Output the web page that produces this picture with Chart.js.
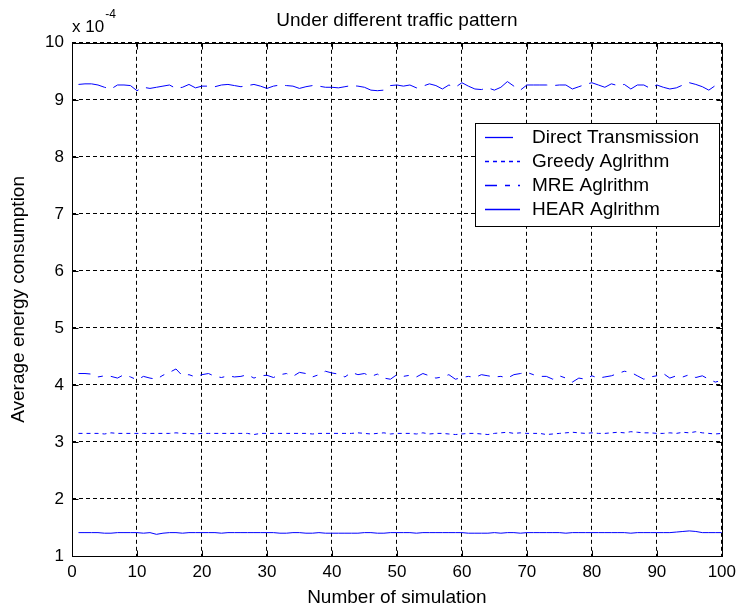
<!DOCTYPE html>
<html>
<head>
<meta charset="utf-8">
<script src="https://cdn.jsdelivr.net/npm/chart.js@4.4.0/dist/chart.umd.min.js"></script>
<style>
html, body { margin: 0; padding: 0; background: #fff; }
</style>
</head>
<body>
<canvas id="chart" width="742" height="612"></canvas>
<script>
// simulation number 1..100
var runs = [];
for (var i = 1; i <= 100; i++) runs.push(i);

var xTicks = [0, 10, 20, 30, 40, 50, 60, 70, 80, 90, 100];
var yTicks = [1, 2, 3, 4, 5, 6, 7, 8, 9, 10];

// values in units of 1e-4
var direct = [9.27,9.28,9.28,9.26,9.22,9.19,9.26,9.26,9.25,9.16, 9.22,9.20,9.22,9.24,9.26,9.20,9.22,9.27,9.21,9.24,
  9.24,9.23,9.26,9.27,9.25,9.23,9.25,9.27,9.24,9.20, 9.24,9.26,9.25,9.24,9.20,9.23,9.25,9.24,9.22,9.22,
  9.21,9.23,9.25,9.24,9.22,9.17,9.16,9.17,9.25,9.26, 9.24,9.26,9.21,9.24,9.28,9.25,9.19,9.26,9.22,9.30,
  9.24,9.19,9.18,9.21,9.17,9.22,9.32,9.24,9.17,9.26, 9.26,9.26,9.26,9.25,9.26,9.26,9.19,9.23,9.27,9.30,
  9.26,9.22,9.28,9.25,9.27,9.19,9.26,9.26,9.20,9.26, 9.22,9.19,9.21,9.26,9.30,9.27,9.23,9.17,9.25,9.20];

var greedy = [3.15,3.15,3.15,3.15,3.14,3.16,3.15,3.15,3.15,3.15, 3.15,3.15,3.15,3.15,3.15,3.16,3.15,3.15,3.14,3.15,
  3.15,3.15,3.15,3.15,3.15,3.15,3.15,3.13,3.15,3.15, 3.15,3.15,3.15,3.15,3.15,3.15,3.14,3.15,3.15,3.15,
  3.15,3.15,3.15,3.16,3.15,3.14,3.15,3.16,3.14,3.15, 3.15,3.15,3.14,3.16,3.14,3.15,3.15,3.14,3.13,3.14,
  3.15,3.15,3.14,3.13,3.15,3.16,3.17,3.15,3.16,3.15, 3.15,3.15,3.13,3.14,3.15,3.16,3.17,3.16,3.15,3.16,
  3.15,3.15,3.16,3.17,3.16,3.18,3.17,3.16,3.16,3.15, 3.15,3.16,3.15,3.17,3.16,3.18,3.16,3.15,3.14,3.15];

var mre = [4.20,4.20,4.19,4.14,4.16,4.15,4.12,4.18,4.14,4.09, 4.15,4.12,4.10,4.17,4.22,4.28,4.16,4.18,4.14,4.18,
  4.20,4.15,4.13,4.16,4.14,4.15,4.18,4.12,4.16,4.17, 4.13,4.18,4.20,4.15,4.22,4.20,4.14,4.18,4.24,4.21,
  4.19,4.14,4.22,4.18,4.20,4.15,4.19,4.12,4.10,4.18, 4.15,4.17,4.14,4.20,4.16,4.12,4.14,4.18,4.10,4.13,
  4.15,4.13,4.18,4.16,4.14,4.15,4.12,4.18,4.20,4.22, 4.18,4.15,4.15,4.10,4.16,4.12,4.05,4.12,4.10,4.16,
  4.12,4.14,4.16,4.20,4.24,4.22,4.16,4.10,4.14,4.16, 4.20,4.12,4.16,4.14,4.18,4.13,4.16,4.10,4.05,4.08];

var hear = [1.41,1.41,1.41,1.41,1.40,1.40,1.41,1.41,1.41,1.41, 1.40,1.41,1.38,1.40,1.41,1.41,1.40,1.41,1.41,1.41,
  1.41,1.41,1.40,1.41,1.41,1.41,1.41,1.41,1.41,1.41, 1.41,1.40,1.40,1.41,1.41,1.40,1.40,1.41,1.40,1.40,
  1.40,1.40,1.40,1.40,1.41,1.41,1.40,1.40,1.41,1.41, 1.41,1.41,1.40,1.41,1.41,1.41,1.41,1.41,1.41,1.41,
  1.40,1.40,1.40,1.40,1.41,1.40,1.41,1.41,1.40,1.41, 1.41,1.41,1.41,1.41,1.41,1.40,1.41,1.41,1.41,1.41,
  1.41,1.41,1.41,1.41,1.41,1.40,1.41,1.41,1.41,1.41, 1.41,1.41,1.42,1.43,1.44,1.43,1.41,1.41,1.41,1.41];

var FONT = "'Liberation Sans', Arial, sans-serif";
var BLUE = '#0000ff';

function pts(arr) {
  return arr.map(function (v, i) { return { x: runs[i], y: v }; });
}

function series(label, arr, dash) {
  return {
    label: label,
    data: pts(arr),
    borderColor: BLUE,
    borderWidth: 1,
    borderDash: dash,
    pointRadius: 0,
    tension: 0,
    fill: false
  };
}

// axes box, inward ticks, exponent label and legend drawn on top
var matlabFrame = {
  id: 'matlabFrame',
  afterDraw: function (chart) {
    var ctx = chart.ctx, a = chart.chartArea;
    var xs = chart.scales.x, ys = chart.scales.y;
    var L = Math.round(a.left) + 0.5, R = Math.round(a.right) + 0.5;
    var T = Math.round(a.top) + 0.5, B = Math.round(a.bottom) + 0.5;
    ctx.save();
    ctx.strokeStyle = '#000';
    ctx.lineWidth = 1;
    ctx.setLineDash([]);
    ctx.strokeRect(L, T, R - L, B - T);
    ctx.beginPath();
    xTicks.forEach(function (v) {
      var px = Math.round(xs.getPixelForValue(v)) + 0.5;
      ctx.moveTo(px, B); ctx.lineTo(px, B - 6);
      ctx.moveTo(px, T); ctx.lineTo(px, T + 6);
    });
    yTicks.forEach(function (v) {
      var py = Math.round(ys.getPixelForValue(v)) + 0.5;
      ctx.moveTo(L, py); ctx.lineTo(L + 6, py);
      ctx.moveTo(R, py); ctx.lineTo(R - 6, py);
    });
    ctx.stroke();

    // exponent
    ctx.fillStyle = '#000';
    ctx.textBaseline = 'middle';
    ctx.textAlign = 'left';
    ctx.font = '17px ' + FONT;
    ctx.fillText('x 10', a.left, 27);
    var w = ctx.measureText('x 10').width;
    ctx.font = '12px ' + FONT;
    ctx.fillText('-4', a.left + w + 1, 15);

    // legend
    var bx = 475.5, by = 123.5, bw = 244, bh = 103;
    ctx.fillStyle = '#fff';
    ctx.fillRect(bx, by, bw, bh);
    ctx.strokeStyle = '#000';
    ctx.strokeRect(bx, by, bw, bh);
    ctx.font = '19px ' + FONT;
    chart.data.datasets.forEach(function (ds, i) {
      var yy = 137 + i * 24;
      ctx.strokeStyle = BLUE;
      ctx.lineWidth = 1.3;
      ctx.setLineDash(ds.borderDash || []);
      ctx.beginPath();
      ctx.moveTo(485, yy + 0.5);
      ctx.lineTo(520, yy + 0.5);
      ctx.stroke();
      ctx.setLineDash([]);
      ctx.fillStyle = '#000';
      ctx.fillText(ds.label, 532, yy + 1);
    });
    ctx.restore();
  }
};

new Chart(document.getElementById('chart'), {
  type: 'line',
  data: {
    datasets: [
      series('Direct Transmission', direct, [28, 8]),
      series('Greedy Aglrithm', greedy, [4, 4]),
      series('MRE Aglrithm', mre, [12, 8, 5, 8]),
      series('HEAR Aglrithm', hear, [])
    ]
  },
  options: {
    responsive: false,
    animation: false,
    layout: { padding: { left: 0, right: 17, top: 0, bottom: 0 } },
    plugins: {
      legend: { display: false },
      tooltip: { enabled: false },
      title: {
        display: true,
        text: 'Under different traffic pattern',
        fullSize: false,
        color: '#000',
        font: { family: FONT, size: 19, weight: 'normal' },
        padding: { top: 9, bottom: 11 }
      }
    },
    scales: {
      x: {
        type: 'linear',
        min: 0,
        max: 100,
        afterBuildTicks: function (s) { s.ticks = xTicks.map(function (v) { return { value: v }; }); },
        afterFit: function (s) { s.height = 56; },
        ticks: { color: '#000', font: { family: FONT, size: 17 }, padding: 6, maxRotation: 0 },
        grid: { color: '#000', lineWidth: 1, drawTicks: false },
        border: { display: false, dash: [4, 3] },
        title: {
          display: true,
          text: 'Number of simulation',
          color: '#000',
          font: { family: FONT, size: 19 },
          padding: { top: 0, bottom: 3 }
        }
      },
      y: {
        min: 1,
        max: 10,
        afterBuildTicks: function (s) { s.ticks = yTicks.map(function (v) { return { value: v }; }); },
        afterFit: function (s) { s.width = 72; },
        ticks: { color: '#000', font: { family: FONT, size: 17 }, padding: 8 },
        grid: { color: '#000', lineWidth: 1, drawTicks: false },
        border: { display: false, dash: [4, 3] },
        title: {
          display: true,
          text: 'Average energy consumption',
          color: '#000',
          font: { family: FONT, size: 19 },
          padding: { top: 7, bottom: 0 }
        }
      }
    }
  },
  plugins: [matlabFrame]
});
</script>
</body>
</html>
